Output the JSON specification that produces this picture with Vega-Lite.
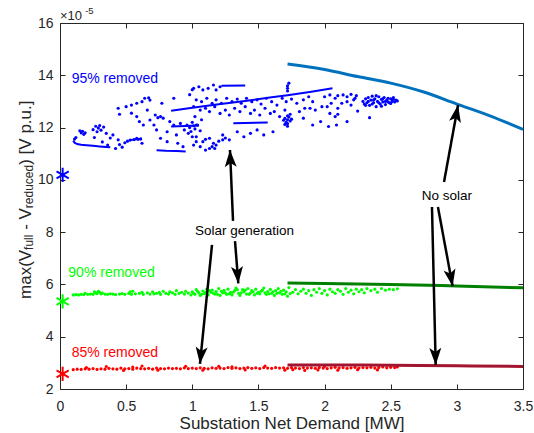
{
"$schema":"https://vega.github.io/schema/vega-lite/v6.json",
"width":463,"height":366,
"autosize":{"type":"none"},
"padding":{"left":60,"top":23,"right":11,"bottom":44},
"background":"white",
"config":{
 "font":"Liberation Sans",
 "view":{"stroke":null},
 "axis":{"grid":false,"domainColor":"#262626","domainWidth":1,"tickColor":"#262626","tickWidth":1,"tickSize":-5,"labelFont":"Liberation Sans","labelFontSize":14,"labelColor":"#262626","labelFlush":false,"labelOverlap":false,"titleFont":"Liberation Sans","titleFontSize":17,"titleFontWeight":"normal","titleColor":"#262626"},
 "text":{"font":"Liberation Sans"}
},
"datasets":{
"solar":[
{"s":"95","x":0.11,"y":11.56},{"s":"95","x":0.12,"y":11.62},{"s":"95","x":0.15,"y":11.88},{"s":"95","x":0.16,"y":11.8},{"s":"95","x":0.17,"y":11.86},{"s":"95","x":0.18,"y":11.74},{"s":"95","x":0.19,"y":11.8},{"s":"95","x":0.25,"y":11.92},{"s":"95","x":0.26,"y":11.62},{"s":"95","x":0.27,"y":12.05},{"s":"95","x":0.28,"y":11.84},{"s":"95","x":0.29,"y":11.98},{"s":"95","x":0.3,"y":12.08},{"s":"95","x":0.31,"y":11.9},{"s":"95","x":0.32,"y":11.45},{"s":"95","x":0.33,"y":12.02},{"s":"95","x":0.35,"y":11.78},{"s":"95","x":0.36,"y":11.33},{"s":"95","x":0.38,"y":11.6},{"s":"95","x":0.4,"y":11.72},{"s":"95","x":0.42,"y":11.2},{"s":"95","x":0.44,"y":11.53},{"s":"95","x":0.45,"y":11.35},{"s":"95","x":0.47,"y":11.25},{"s":"95","x":0.49,"y":11.42},{"s":"95","x":0.51,"y":11.48},{"s":"95","x":0.44,"y":12.74},{"s":"95","x":0.45,"y":12.51},{"s":"95","x":0.5,"y":12.8},{"s":"95","x":0.53,"y":11.52},{"s":"95","x":0.54,"y":12.86},{"s":"95","x":0.54,"y":12.55},{"s":"95","x":0.56,"y":11.54},{"s":"95","x":0.58,"y":12.93},{"s":"95","x":0.58,"y":12.42},{"s":"95","x":0.58,"y":11.59},{"s":"95","x":0.59,"y":11.55},{"s":"95","x":0.6,"y":12.23},{"s":"95","x":0.61,"y":11.56},{"s":"95","x":0.62,"y":12.99},{"s":"95","x":0.62,"y":11.4},{"s":"95","x":0.63,"y":12.1},{"s":"95","x":0.64,"y":13.12},{"s":"95","x":0.66,"y":12.67},{"s":"95","x":0.67,"y":13.14},{"s":"95","x":0.68,"y":13.05},{"s":"95","x":0.68,"y":12.29},{"s":"95","x":0.71,"y":12.1},{"s":"95","x":0.72,"y":12.48},{"s":"95","x":0.73,"y":11.91},{"s":"95","x":0.74,"y":12.38},{"s":"95","x":0.76,"y":12.42},{"s":"95","x":0.76,"y":11.59},{"s":"95","x":0.77,"y":12.93},{"s":"95","x":0.78,"y":12.36},{"s":"95","x":0.81,"y":11.84},{"s":"95","x":0.81,"y":11.46},{"s":"95","x":0.83,"y":12.23},{"s":"95","x":0.86,"y":13.12},{"s":"95","x":0.86,"y":12.1},{"s":"95","x":0.88,"y":11.72},{"s":"95","x":0.89,"y":11.4},{"s":"95","x":0.91,"y":12.16},{"s":"95","x":0.93,"y":11.27},{"s":"95","x":0.94,"y":11.91},{"s":"95","x":0.96,"y":12.1},{"s":"95","x":0.97,"y":11.78},{"s":"95","x":0.98,"y":13.26},{"s":"95","x":0.98,"y":12.0},{"s":"95","x":0.99,"y":11.85},{"s":"95","x":1.0,"y":13.45},{"s":"95","x":1.0,"y":11.65},{"s":"95","x":1.0,"y":12.2},{"s":"95","x":1.01,"y":13.5},{"s":"95","x":1.01,"y":12.07},{"s":"95","x":1.01,"y":12.8},{"s":"95","x":1.01,"y":11.33},{"s":"95","x":1.02,"y":12.42},{"s":"95","x":1.02,"y":11.95},{"s":"95","x":1.03,"y":12.1},{"s":"95","x":1.03,"y":11.46},{"s":"95","x":1.03,"y":13.06},{"s":"95","x":1.03,"y":11.65},{"s":"95","x":1.04,"y":12.1},{"s":"95","x":1.05,"y":13.56},{"s":"95","x":1.06,"y":11.88},{"s":"95","x":1.06,"y":12.67},{"s":"95","x":1.06,"y":11.27},{"s":"95","x":1.07,"y":12.3},{"s":"95","x":1.07,"y":12.99},{"s":"95","x":1.08,"y":13.44},{"s":"95","x":1.08,"y":11.46},{"s":"95","x":1.1,"y":12.74},{"s":"95","x":1.1,"y":11.14},{"s":"95","x":1.1,"y":11.55},{"s":"95","x":1.11,"y":13.12},{"s":"95","x":1.12,"y":13.5},{"s":"95","x":1.13,"y":12.61},{"s":"95","x":1.13,"y":11.59},{"s":"95","x":1.13,"y":11.2},{"s":"95","x":1.15,"y":12.93},{"s":"95","x":1.15,"y":11.27},{"s":"95","x":1.16,"y":13.63},{"s":"95","x":1.16,"y":11.4},{"s":"95","x":1.17,"y":12.8},{"s":"95","x":1.17,"y":11.2},{"s":"95","x":1.18,"y":13.44},{"s":"95","x":1.18,"y":13.06},{"s":"95","x":1.18,"y":11.33},{"s":"95","x":1.2,"y":11.48},{"s":"95","x":1.21,"y":13.56},{"s":"95","x":1.21,"y":12.54},{"s":"95","x":1.22,"y":12.93},{"s":"95","x":1.23,"y":11.72},{"s":"95","x":1.23,"y":11.53},{"s":"95","x":1.25,"y":12.67},{"s":"95","x":1.25,"y":11.6},{"s":"95","x":1.26,"y":13.12},{"s":"95","x":1.28,"y":12.48},{"s":"95","x":1.28,"y":11.53},{"s":"95","x":1.3,"y":12.99},{"s":"95","x":1.32,"y":12.74},{"s":"95","x":1.34,"y":13.09},{"s":"95","x":1.34,"y":11.84},{"s":"95","x":1.36,"y":12.61},{"s":"95","x":1.37,"y":12.93},{"s":"95","x":1.39,"y":11.65},{"s":"95","x":1.4,"y":12.8},{"s":"95","x":1.41,"y":13.12},{"s":"95","x":1.44,"y":12.54},{"s":"95","x":1.44,"y":11.78},{"s":"95","x":1.45,"y":12.99},{"s":"95","x":1.47,"y":12.67},{"s":"95","x":1.49,"y":13.06},{"s":"95","x":1.49,"y":11.91},{"s":"95","x":1.51,"y":12.48},{"s":"95","x":1.52,"y":12.9},{"s":"95","x":1.54,"y":11.72},{"s":"95","x":1.55,"y":12.74},{"s":"95","x":1.56,"y":13.12},{"s":"95","x":1.59,"y":12.54},{"s":"95","x":1.6,"y":12.99},{"s":"95","x":1.61,"y":11.84},{"s":"95","x":1.62,"y":12.61},{"s":"95","x":1.64,"y":12.86},{"s":"95","x":1.66,"y":12.42},{"s":"95","x":1.68,"y":13.12},{"s":"95","x":1.69,"y":12.28},{"s":"95","x":1.7,"y":12.67},{"s":"95","x":1.7,"y":12.35},{"s":"95","x":1.7,"y":12.12},{"s":"95","x":1.71,"y":12.99},{"s":"95","x":1.71,"y":12.2},{"s":"95","x":1.72,"y":12.3},{"s":"95","x":1.72,"y":12.15},{"s":"95","x":1.72,"y":12.05},{"s":"95","x":1.72,"y":12.45},{"s":"95","x":1.72,"y":13.4},{"s":"95","x":1.72,"y":13.5},{"s":"95","x":1.72,"y":13.6},{"s":"95","x":1.73,"y":13.7},{"s":"95","x":1.73,"y":12.4},{"s":"95","x":1.74,"y":12.25},{"s":"95","x":1.74,"y":12.51},{"s":"95","x":1.75,"y":12.32},{"s":"95","x":1.75,"y":13.09},{"s":"95","x":1.79,"y":12.93},{"s":"95","x":1.81,"y":12.61},{"s":"95","x":1.84,"y":13.06},{"s":"95","x":1.84,"y":12.36},{"s":"95","x":1.85,"y":12.74},{"s":"95","x":1.88,"y":13.18},{"s":"95","x":1.89,"y":12.74},{"s":"95","x":1.91,"y":12.99},{"s":"95","x":1.91,"y":12.1},{"s":"95","x":1.93,"y":12.67},{"s":"95","x":1.97,"y":12.23},{"s":"95","x":1.98,"y":12.8},{"s":"95","x":2.0,"y":13.18},{"s":"95","x":2.02,"y":12.8},{"s":"95","x":2.03,"y":12.04},{"s":"95","x":2.04,"y":13.25},{"s":"95","x":2.04,"y":12.54},{"s":"95","x":2.05,"y":12.93},{"s":"95","x":2.08,"y":13.12},{"s":"95","x":2.08,"y":12.42},{"s":"95","x":2.09,"y":12.1},{"s":"95","x":2.1,"y":13.22},{"s":"95","x":2.1,"y":12.74},{"s":"95","x":2.1,"y":12.51},{"s":"95","x":2.13,"y":12.93},{"s":"95","x":2.14,"y":13.25},{"s":"95","x":2.17,"y":13.18},{"s":"95","x":2.17,"y":12.99},{"s":"95","x":2.17,"y":12.23},{"s":"95","x":2.2,"y":13.27},{"s":"95","x":2.2,"y":12.86},{"s":"95","x":2.22,"y":13.06},{"s":"95","x":2.23,"y":13.12},{"s":"95","x":2.24,"y":13.22},{"s":"95","x":2.25,"y":12.63},{"s":"95","x":2.34,"y":12.38},
{"s":"95","x":2.29,"y":13.0},{"s":"95","x":2.3,"y":12.9},{"s":"95","x":2.31,"y":13.1},{"s":"95","x":2.32,"y":12.95},{"s":"95","x":2.33,"y":13.15},{"s":"95","x":2.34,"y":12.85},{"s":"95","x":2.35,"y":13.05},{"s":"95","x":2.36,"y":13.2},{"s":"95","x":2.37,"y":12.95},{"s":"95","x":2.38,"y":13.1},{"s":"95","x":2.39,"y":12.8},{"s":"95","x":2.4,"y":13.0},{"s":"95","x":2.41,"y":13.18},{"s":"95","x":2.42,"y":12.9},{"s":"95","x":2.43,"y":13.08},{"s":"95","x":2.44,"y":12.98},{"s":"95","x":2.45,"y":13.15},{"s":"95","x":2.46,"y":12.88},{"s":"95","x":2.47,"y":13.05},{"s":"95","x":2.48,"y":13.12},{"s":"95","x":2.49,"y":12.95},{"s":"95","x":2.5,"y":13.1},{"s":"95","x":2.51,"y":13.0},{"s":"95","x":2.52,"y":13.08},{"s":"95","x":2.53,"y":12.98},{"s":"95","x":2.54,"y":13.05},{"s":"95","x":2.55,"y":13.02},{"s":"95","x":2.33,"y":13.0},{"s":"95","x":2.37,"y":13.05},{"s":"95","x":2.41,"y":12.95},{"s":"95","x":2.44,"y":13.1},{"s":"95","x":2.48,"y":12.98},{"s":"95","x":2.52,"y":13.15},{"s":"95","x":2.36,"y":12.9},{"s":"95","x":2.46,"y":13.0},{"s":"95","x":2.31,"y":12.85},{"s":"95","x":2.39,"y":13.22},{"s":"95","x":2.5,"y":12.92},{"s":"95","x":2.43,"y":12.82},
{"s":"90","x":0.1,"y":5.6},{"s":"90","x":0.12,"y":5.61},{"s":"90","x":0.14,"y":5.6},{"s":"90","x":0.16,"y":5.62},{"s":"90","x":0.18,"y":5.61},{"s":"90","x":0.19,"y":5.66},{"s":"90","x":0.21,"y":5.62},{"s":"90","x":0.23,"y":5.63},{"s":"90","x":0.25,"y":5.62},{"s":"90","x":0.26,"y":5.72},{"s":"90","x":0.27,"y":5.68},{"s":"90","x":0.28,"y":5.65},{"s":"90","x":0.29,"y":5.74},{"s":"90","x":0.3,"y":5.7},{"s":"90","x":0.31,"y":5.64},{"s":"90","x":0.32,"y":5.67},{"s":"90","x":0.34,"y":5.63},{"s":"90","x":0.36,"y":5.62},{"s":"90","x":0.38,"y":5.64},{"s":"90","x":0.4,"y":5.63},{"s":"90","x":0.42,"y":5.61},{"s":"90","x":0.45,"y":5.63},{"s":"90","x":0.47,"y":5.65},{"s":"90","x":0.49,"y":5.62},{"s":"90","x":0.52,"y":5.66},{"s":"90","x":0.53,"y":5.72},{"s":"90","x":0.54,"y":5.62},{"s":"90","x":0.55,"y":5.74},{"s":"90","x":0.57,"y":5.64},{"s":"90","x":0.6,"y":5.66},{"s":"90","x":0.62,"y":5.7},{"s":"90","x":0.63,"y":5.62},{"s":"90","x":0.66,"y":5.68},{"s":"90","x":0.68,"y":5.63},{"s":"90","x":0.7,"y":5.72},{"s":"90","x":0.71,"y":5.64},{"s":"90","x":0.73,"y":5.66},{"s":"90","x":0.75,"y":5.7},{"s":"90","x":0.76,"y":5.62},{"s":"90","x":0.78,"y":5.74},{"s":"90","x":0.8,"y":5.66},{"s":"90","x":0.82,"y":5.63},{"s":"90","x":0.83,"y":5.72},{"s":"90","x":0.85,"y":5.68},{"s":"90","x":0.87,"y":5.62},{"s":"90","x":0.88,"y":5.76},{"s":"90","x":0.9,"y":5.66},{"s":"90","x":0.92,"y":5.7},{"s":"90","x":0.94,"y":5.63},{"s":"90","x":0.95,"y":5.74},{"s":"90","x":0.97,"y":5.67},{"s":"90","x":0.99,"y":5.6},
{"s":"90","x":1.0,"y":5.72},{"s":"90","x":1.02,"y":5.62},{"s":"90","x":1.03,"y":5.8},{"s":"90","x":1.05,"y":5.68},{"s":"90","x":1.06,"y":5.58},{"s":"90","x":1.08,"y":5.75},{"s":"90","x":1.09,"y":5.65},{"s":"90","x":1.11,"y":5.82},{"s":"90","x":1.12,"y":5.6},{"s":"90","x":1.14,"y":5.7},{"s":"90","x":1.15,"y":5.78},{"s":"90","x":1.17,"y":5.63},{"s":"90","x":1.18,"y":5.73},{"s":"90","x":1.2,"y":5.84},{"s":"90","x":1.21,"y":5.58},{"s":"90","x":1.23,"y":5.68},{"s":"90","x":1.24,"y":5.77},{"s":"90","x":1.26,"y":5.62},{"s":"90","x":1.27,"y":5.82},{"s":"90","x":1.29,"y":5.7},{"s":"90","x":1.3,"y":5.6},{"s":"90","x":1.32,"y":5.76},{"s":"90","x":1.33,"y":5.86},{"s":"90","x":1.35,"y":5.66},{"s":"90","x":1.36,"y":5.58},{"s":"90","x":1.38,"y":5.8},{"s":"90","x":1.39,"y":5.72},{"s":"90","x":1.41,"y":5.63},{"s":"90","x":1.42,"y":5.84},{"s":"90","x":1.44,"y":5.68},{"s":"90","x":1.45,"y":5.76},{"s":"90","x":1.47,"y":5.6},{"s":"90","x":1.48,"y":5.82},{"s":"90","x":1.5,"y":5.7},{"s":"90","x":1.51,"y":5.64},{"s":"90","x":1.53,"y":5.78},{"s":"90","x":1.54,"y":5.86},{"s":"90","x":1.56,"y":5.62},{"s":"90","x":1.57,"y":5.73},{"s":"90","x":1.59,"y":5.81},{"s":"90","x":1.6,"y":5.66},{"s":"90","x":1.62,"y":5.58},{"s":"90","x":1.63,"y":5.76},{"s":"90","x":1.65,"y":5.84},{"s":"90","x":1.66,"y":5.68},{"s":"90","x":1.68,"y":5.62},{"s":"90","x":1.69,"y":5.78},{"s":"90","x":1.71,"y":5.72},{"s":"90","x":1.72,"y":5.55},{"s":"90","x":1.73,"y":5.88},{"s":"90","x":1.74,"y":5.65},
{"s":"90","x":1.01,"y":5.66},{"s":"90","x":1.04,"y":5.74},{"s":"90","x":1.07,"y":5.62},{"s":"90","x":1.1,"y":5.7},{"s":"90","x":1.13,"y":5.76},{"s":"90","x":1.16,"y":5.66},{"s":"90","x":1.19,"y":5.62},{"s":"90","x":1.22,"y":5.74},{"s":"90","x":1.25,"y":5.68},{"s":"90","x":1.28,"y":5.64},{"s":"90","x":1.31,"y":5.7},{"s":"90","x":1.34,"y":5.8},{"s":"90","x":1.37,"y":5.68},{"s":"90","x":1.4,"y":5.78},{"s":"90","x":1.43,"y":5.62},{"s":"90","x":1.46,"y":5.72},{"s":"90","x":1.49,"y":5.66},{"s":"90","x":1.52,"y":5.74},{"s":"90","x":1.55,"y":5.68},{"s":"90","x":1.58,"y":5.64},{"s":"90","x":1.61,"y":5.72},{"s":"90","x":1.64,"y":5.66},{"s":"90","x":1.67,"y":5.74},{"s":"90","x":1.7,"y":5.64},
{"s":"90","x":1.76,"y":5.7},{"s":"90","x":1.78,"y":5.8},{"s":"90","x":1.8,"y":5.64},{"s":"90","x":1.82,"y":5.74},{"s":"90","x":1.84,"y":5.82},{"s":"90","x":1.86,"y":5.66},{"s":"90","x":1.88,"y":5.76},{"s":"90","x":1.9,"y":5.58},{"s":"90","x":1.92,"y":5.8},{"s":"90","x":1.94,"y":5.7},{"s":"90","x":1.96,"y":5.84},{"s":"90","x":1.98,"y":5.66},{"s":"90","x":2.0,"y":5.76},{"s":"90","x":2.02,"y":5.6},{"s":"90","x":2.04,"y":5.82},{"s":"90","x":2.06,"y":5.72},{"s":"90","x":2.08,"y":5.66},{"s":"90","x":2.1,"y":5.8},{"s":"90","x":2.12,"y":5.74},{"s":"90","x":2.14,"y":5.62},{"s":"90","x":2.16,"y":5.84},{"s":"90","x":2.18,"y":5.7},{"s":"90","x":2.2,"y":5.78},{"s":"90","x":2.22,"y":5.64},{"s":"90","x":2.24,"y":5.82},{"s":"90","x":2.26,"y":5.72},{"s":"90","x":2.28,"y":5.8},{"s":"90","x":2.3,"y":5.68},{"s":"90","x":2.32,"y":5.84},{"s":"90","x":2.35,"y":5.76},{"s":"90","x":2.38,"y":5.82},{"s":"90","x":2.4,"y":5.7},{"s":"90","x":2.43,"y":5.84},{"s":"90","x":2.46,"y":5.78},{"s":"90","x":2.49,"y":5.82},{"s":"90","x":2.52,"y":5.8},{"s":"90","x":2.55,"y":5.83},
{"s":"85","x":0.1,"y":2.74},{"s":"85","x":0.13,"y":2.76},{"s":"85","x":0.16,"y":2.75},{"s":"85","x":0.19,"y":2.77},{"s":"85","x":0.22,"y":2.76},{"s":"85","x":0.25,"y":2.78},{"s":"85","x":0.28,"y":2.75},{"s":"85","x":0.31,"y":2.77},{"s":"85","x":0.34,"y":2.76},{"s":"85","x":0.37,"y":2.79},{"s":"85","x":0.4,"y":2.77},{"s":"85","x":0.43,"y":2.76},{"s":"85","x":0.46,"y":2.8},{"s":"85","x":0.49,"y":2.77},{"s":"85","x":0.52,"y":2.78},{"s":"85","x":0.55,"y":2.76},{"s":"85","x":0.58,"y":2.8},{"s":"85","x":0.61,"y":2.78},{"s":"85","x":0.64,"y":2.77},{"s":"85","x":0.67,"y":2.79},{"s":"85","x":0.7,"y":2.76},{"s":"85","x":0.73,"y":2.8},{"s":"85","x":0.76,"y":2.78},{"s":"85","x":0.79,"y":2.77},{"s":"85","x":0.82,"y":2.8},{"s":"85","x":0.85,"y":2.78},{"s":"85","x":0.88,"y":2.79},{"s":"85","x":0.91,"y":2.77},{"s":"85","x":0.94,"y":2.81},{"s":"85","x":0.97,"y":2.78},{"s":"85","x":1.0,"y":2.8},{"s":"85","x":1.03,"y":2.78},{"s":"85","x":1.06,"y":2.81},{"s":"85","x":1.09,"y":2.79},{"s":"85","x":1.12,"y":2.77},{"s":"85","x":1.15,"y":2.81},{"s":"85","x":1.18,"y":2.79},{"s":"85","x":1.21,"y":2.8},{"s":"85","x":1.24,"y":2.78},{"s":"85","x":1.27,"y":2.82},{"s":"85","x":1.3,"y":2.79},{"s":"85","x":1.33,"y":2.81},{"s":"85","x":1.36,"y":2.78},{"s":"85","x":1.39,"y":2.8},{"s":"85","x":1.42,"y":2.82},{"s":"85","x":1.45,"y":2.79},{"s":"85","x":1.48,"y":2.81},{"s":"85","x":1.51,"y":2.78},{"s":"85","x":1.54,"y":2.82},{"s":"85","x":1.57,"y":2.8},{"s":"85","x":1.6,"y":2.79},{"s":"85","x":1.63,"y":2.82},{"s":"85","x":1.66,"y":2.8},{"s":"85","x":1.69,"y":2.81},{"s":"85","x":1.72,"y":2.79},{"s":"85","x":1.75,"y":2.82},{"s":"85","x":1.78,"y":2.8},{"s":"85","x":1.81,"y":2.78},{"s":"85","x":1.84,"y":2.82},{"s":"85","x":1.87,"y":2.8},{"s":"85","x":1.9,"y":2.81},{"s":"85","x":1.93,"y":2.79},{"s":"85","x":1.96,"y":2.82},{"s":"85","x":1.99,"y":2.8},{"s":"85","x":2.02,"y":2.78},{"s":"85","x":2.05,"y":2.81},{"s":"85","x":2.08,"y":2.83},{"s":"85","x":2.11,"y":2.8},{"s":"85","x":2.14,"y":2.82},{"s":"85","x":2.17,"y":2.79},{"s":"85","x":2.2,"y":2.81},{"s":"85","x":2.23,"y":2.83},{"s":"85","x":2.26,"y":2.8},{"s":"85","x":2.29,"y":2.82},{"s":"85","x":2.32,"y":2.81},{"s":"85","x":2.35,"y":2.83},{"s":"85","x":2.38,"y":2.8},{"s":"85","x":2.41,"y":2.82},{"s":"85","x":2.44,"y":2.84},{"s":"85","x":2.47,"y":2.81},{"s":"85","x":2.5,"y":2.83},{"s":"85","x":2.53,"y":2.82},{"s":"85","x":2.55,"y":2.84},
{"s":"85","x":0.35,"y":2.86},{"s":"85","x":0.48,"y":2.71},{"s":"85","x":0.62,"y":2.88},{"s":"85","x":0.74,"y":2.72},{"s":"85","x":0.95,"y":2.87},{"s":"85","x":1.08,"y":2.72},{"s":"85","x":1.2,"y":2.87},{"s":"85","x":1.4,"y":2.73},{"s":"85","x":1.55,"y":2.88},{"s":"85","x":1.7,"y":2.72},{"s":"85","x":1.76,"y":2.74},{"s":"85","x":1.85,"y":2.71},{"s":"85","x":1.95,"y":2.73},{"s":"85","x":2.1,"y":2.72},{"s":"85","x":2.25,"y":2.74},{"s":"85","x":2.4,"y":2.73},{"s":"85","x":0.2,"y":2.82},{"s":"85","x":0.55,"y":2.84},{"s":"85","x":1.3,"y":2.85},{"s":"85","x":2.0,"y":2.86}
],
"seg":[
{"g":"1","x":0.1,"y":11.5},{"g":"1","x":0.11,"y":11.42},{"g":"1","x":0.13,"y":11.37},{"g":"1","x":0.16,"y":11.34},{"g":"1","x":0.2,"y":11.32},{"g":"1","x":0.25,"y":11.3},{"g":"1","x":0.3,"y":11.28},{"g":"1","x":0.35,"y":11.26},{"g":"1","x":0.38,"y":11.25},
{"g":"2","x":0.73,"y":11.13},{"g":"2","x":0.8,"y":11.11},{"g":"2","x":0.88,"y":11.1},{"g":"2","x":0.95,"y":11.08},
{"g":"3","x":0.84,"y":12.64},{"g":"3","x":1.0,"y":12.76},{"g":"3","x":1.2,"y":12.89},{"g":"3","x":1.4,"y":13.02},{"g":"3","x":1.6,"y":13.16},{"g":"3","x":1.72,"y":13.24},{"g":"3","x":1.9,"y":13.37},{"g":"3","x":2.06,"y":13.5},
{"g":"4","x":1.22,"y":13.6},{"g":"4","x":1.4,"y":13.61},
{"g":"5","x":1.31,"y":12.17},{"g":"5","x":1.57,"y":12.19},
{"g":"6","x":0.84,"y":12.04},{"g":"6","x":1.05,"y":12.08},
{"g":"7","x":0.53,"y":11.52},{"g":"7","x":0.62,"y":11.58}
],
"nosolar":[
{"s":"95n","x":1.72,"y":14.43},{"s":"95n","x":2.0,"y":14.22},{"s":"95n","x":2.25,"y":13.95},{"s":"95n","x":2.5,"y":13.7},{"s":"95n","x":2.75,"y":13.36},{"s":"95n","x":3.0,"y":12.9},{"s":"95n","x":3.25,"y":12.45},{"s":"95n","x":3.5,"y":11.93},
{"s":"90n","x":1.72,"y":6.05},{"s":"90n","x":2.0,"y":6.04},{"s":"90n","x":2.5,"y":6.0},{"s":"90n","x":3.0,"y":5.94},{"s":"90n","x":3.5,"y":5.87},
{"s":"85n","x":1.72,"y":2.92},{"s":"85n","x":2.5,"y":2.91},{"s":"85n","x":3.0,"y":2.89},{"s":"85n","x":3.5,"y":2.86}
],
"base":[
{"s":"95","x":0.02,"y":10.19},{"s":"90","x":0.02,"y":5.35},{"s":"85","x":0.02,"y":2.58}
],
"arrows":[
{"id":"s1","x":1.308,"y":8.43,"x2":1.285,"y2":11.14},
{"id":"s2","x":1.323,"y":7.66,"x2":1.348,"y2":6.04},
{"id":"s3","x":1.149,"y":7.51,"x2":1.058,"y2":2.96},
{"id":"n1","x":2.903,"y":9.92,"x2":3.009,"y2":12.86},
{"id":"n2","x":2.857,"y":8.96,"x2":2.968,"y2":5.93},
{"id":"n3","x":2.812,"y":8.96,"x2":2.84,"y2":2.92}
],
"labels":[
{"s":"95","t":"95% removed","x":0.088,"y":13.69},
{"s":"90","t":"90% removed","x":0.063,"y":6.3},
{"s":"85","t":"85% removed","x":0.088,"y":3.21}
],
"notes":[
{"t":"Solar generation","x":1.02,"y":7.88},
{"t":"No solar","x":2.734,"y":9.23}
],
"ytitle":[
{"t":"max(V","x":-0.2215,"y":5.443,"sub":0},
{"t":"full","x":-0.204,"y":7.321,"sub":1},
{"t":"- V","x":-0.2215,"y":8.087,"sub":0},
{"t":"reduced","x":-0.204,"y":8.917,"sub":1},
{"t":") [V p.u.]","x":-0.2215,"y":10.577,"sub":0}
],
"exp":[
{"t":"×10","x":0.0,"y":16.115,"sup":0},
{"t":"-5","x":0.19,"y":16.35,"sup":1}
]
},
"encoding":{
 "x":{"field":"x","type":"quantitative","scale":{"domain":[0,3.5],"nice":false,"zero":false},"axis":null},
 "y":{"field":"y","type":"quantitative","scale":{"domain":[2,16],"nice":false,"zero":false},"axis":null}
},
"layer":[
 {"data":{"name":"solar"},
  "mark":{"type":"circle","size":10,"opacity":1},
  "encoding":{
   "x":{"field":"x","type":"quantitative","scale":{"domain":[0,3.5],"nice":false,"zero":false},
        "axis":{"orient":"bottom","values":[0,0.5,1,1.5,2,2.5,3,3.5],"format":"~g","labelPadding":15,"title":"Substation Net Demand [MW]","titlePadding":2}},
   "y":{"field":"y","type":"quantitative","scale":{"domain":[2,16],"nice":false,"zero":false},
        "axis":{"orient":"left","values":[2,4,6,8,10,12,14,16],"format":"~g","labelPadding":12,"title":null}},
   "color":{"field":"s","type":"nominal","scale":{"domain":["95","90","85","95n","90n","85n"],"range":["#0000FF","#00FF00","#FF0000","#0072BD","#008000","#A2142F"]},"legend":null}
  }},
 {"data":{"name":"seg"},
  "mark":{"type":"line","strokeWidth":2,"color":"#0000FF"},
  "encoding":{"detail":{"field":"g"}}},
 {"data":{"name":"nosolar"},
  "mark":{"type":"line","strokeWidth":3,"interpolate":"monotone"},
  "encoding":{
   "x":{"field":"x","type":"quantitative","scale":{"domain":[0,3.5],"nice":false,"zero":false},
        "axis":{"orient":"top","values":[0,0.5,1,1.5,2,2.5,3,3.5],"labels":false,"title":null}},
   "y":{"field":"y","type":"quantitative","scale":{"domain":[2,16],"nice":false,"zero":false},
        "axis":{"orient":"right","values":[2,4,6,8,10,12,14,16],"labels":false,"title":null}},
   "color":{"field":"s","type":"nominal","scale":{"domain":["95","90","85","95n","90n","85n"],"range":["#0000FF","#00FF00","#FF0000","#0072BD","#008000","#A2142F"]},"legend":null}
  }},
 {"data":{"name":"base"},
  "mark":{"type":"point","shape":"M0,-1L0,1M-0.866,-0.5L0.866,0.5M-0.866,0.5L0.866,-0.5","filled":false,"size":200,"strokeWidth":2,"opacity":1},
  "encoding":{"color":{"field":"s","type":"nominal","scale":{"domain":["95","90","85","95n","90n","85n"],"range":["#0000FF","#00FF00","#FF0000","#0072BD","#008000","#A2142F"]},"legend":null}}},
 {"data":{"name":"arrows"},
  "mark":{"type":"rule","strokeWidth":2.5,"color":"black"},
  "encoding":{"x2":{"field":"x2"},"y2":{"field":"y2"}}},
 {"data":{"name":"arrows"},
  "transform":[{"calculate":"atan2((datum.x2-datum.x)*132.29,(datum.y2-datum.y)*26.143)*180/PI","as":"ang"}],
  "mark":{"type":"point","shape":"M0,0L0.6,1.7L0,1.3L-0.6,1.7Z","filled":true,"size":400,"color":"black","opacity":1,"strokeWidth":0},
  "encoding":{
   "x":{"field":"x2","type":"quantitative","scale":{"domain":[0,3.5],"nice":false,"zero":false},"axis":null},
   "y":{"field":"y2","type":"quantitative","scale":{"domain":[2,16],"nice":false,"zero":false},"axis":null},
   "angle":{"field":"ang","type":"quantitative","scale":null}}},
 {"data":{"name":"labels"},
  "mark":{"type":"text","align":"left","baseline":"alphabetic","fontSize":14},
  "encoding":{"text":{"field":"t"},
   "color":{"field":"s","type":"nominal","scale":{"domain":["95","90","85","95n","90n","85n"],"range":["#0000FF","#00FF00","#FF0000","#0072BD","#008000","#A2142F"]},"legend":null}}},
 {"data":{"name":"notes"},
  "mark":{"type":"text","align":"left","baseline":"alphabetic","fontSize":13.5,"color":"#000000"},
  "encoding":{"text":{"field":"t"}}},
 {"data":{"name":"ytitle"},
  "transform":[{"filter":"datum.sub == 0"}],
  "mark":{"type":"text","align":"left","baseline":"alphabetic","angle":270,"fontSize":17,"color":"#262626"},
  "encoding":{"text":{"field":"t"}}},
 {"data":{"name":"ytitle"},
  "transform":[{"filter":"datum.sub == 1"}],
  "mark":{"type":"text","align":"left","baseline":"alphabetic","angle":270,"fontSize":12,"color":"#262626"},
  "encoding":{"text":{"field":"t"}}},
 {"data":{"name":"exp"},
  "transform":[{"filter":"datum.sup == 0"}],
  "mark":{"type":"text","align":"left","baseline":"alphabetic","fontSize":13,"color":"#262626"},
  "encoding":{"text":{"field":"t"}}},
 {"data":{"name":"exp"},
  "transform":[{"filter":"datum.sup == 1"}],
  "mark":{"type":"text","align":"left","baseline":"alphabetic","fontSize":9.5,"color":"#262626"},
  "encoding":{"text":{"field":"t"}}}
],
"resolve":{"axis":{"x":"independent","y":"independent"}}
}
